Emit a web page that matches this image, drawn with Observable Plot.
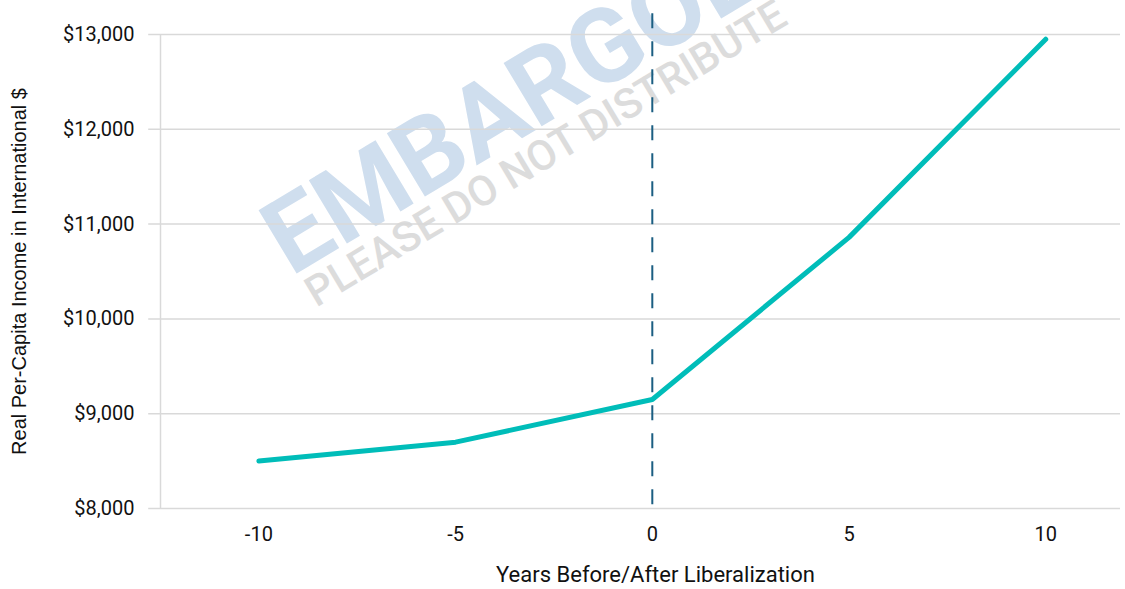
<!DOCTYPE html>
<html>
<head>
<meta charset="utf-8">
<script src="https://cdn.jsdelivr.net/npm/d3@7"></script>
<script src="https://cdn.jsdelivr.net/npm/@observablehq/plot@0.6"></script>
<style>
  html, body { margin: 0; padding: 0; background: white; }
  #chart { width: 1125px; height: 589px; }
</style>
</head>
<body>
<div id="chart"></div>
<script>
const years = [-10, -5, 0, 5, 10];
const income = [8500, 8700, 9150, 10860, 12950];
const xTicks = [-10, -5, 0, 5, 10];
const yTicks = [8000, 9000, 10000, 11000, 12000, 13000];
const liberalizationYear = [0];
const watermarkMain = [{x: -2.85, y: 12430, text: "EMBARGOED"}];
const watermarkSub = [{x: -2.7, y: 11740, text: "PLEASE DO NOT DISTRIBUTE"}];

const data = years.map((t, i) => ({t, v: income[i]}));
const fmtX = d => d < 0 ? "-" + Math.abs(d) : String(d);
const fmtY = d => "$" + d3.format(",")(d);

const chart = Plot.plot({
  width: 1125,
  height: 589,
  marginLeft: 160,
  marginRight: 5,
  marginTop: 34,
  marginBottom: 81,
  style: {fontFamily: "Roboto, sans-serif", background: "white"},
  x: {domain: [-12.5, 11.9], ticks: xTicks, tickFormat: fmtX, label: null, tickSize: 0},
  y: {domain: [8000, 13000], ticks: yTicks, tickFormat: fmtY, label: null, tickSize: 0},
  marks: [
    Plot.text(watermarkMain, {x: "x", y: "y", text: "text", rotate: -31, fontSize: 104, fontWeight: "bold", fill: "#cfdeee", fontFamily: "Roboto"}),
    Plot.text(watermarkSub, {x: "x", y: "y", text: "text", rotate: -31, fontSize: 42, fontWeight: 500, fill: "#dcdcdc", fontFamily: "Roboto"}),
    Plot.ruleY(yTicks, {x1: -12.8, x2: 11.9, stroke: "#d9d9d9", strokeWidth: 1.5}),
    Plot.ruleX([-12.5], {y1: 8000, y2: 13000, stroke: "#d9d9d9", strokeWidth: 1.5}),
    Plot.ruleX(liberalizationYear, {y1: 8040, y2: 13250, stroke: "#1b5e82", strokeWidth: 2, strokeDasharray: "15,13"}),
    Plot.line(data, {x: "t", y: "v", stroke: "#00bdb9", strokeWidth: 5, strokeLinecap: "round", strokeLinejoin: "round"}),
    Plot.axisX({ticks: xTicks, tickSize: 0, tickPadding: 18, fontSize: 20, fill: "#111", tickFormat: fmtX, label: null}),
    Plot.axisY({ticks: yTicks, tickSize: 0, tickPadding: 26, fontSize: 20, fill: "#111", tickFormat: fmtY, label: null}),
    Plot.text(["Years Before/After Liberalization"], {frameAnchor: "bottom", dx: 15, dy: 73, fontSize: 22, fill: "#111", fontFamily: "Roboto"}),
    Plot.text(["Real Per-Capita Income in International $"], {frameAnchor: "left", textAnchor: "middle", dx: -141, rotate: -90, fontSize: 20, fill: "#111", fontFamily: "Liberation Sans"})
  ]
});
document.getElementById("chart").appendChild(chart);
</script>
</body>
</html>
